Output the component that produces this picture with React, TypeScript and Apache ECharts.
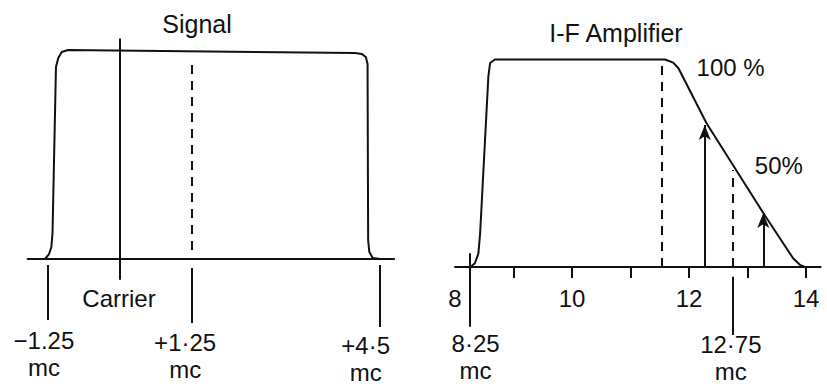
import React, { useEffect, useRef } from "react";
import * as echarts from "echarts";

// ---------- Left panel: "Signal" (frequency in mc relative to the carrier, level in %) ----------
const signalTitle = "Signal";
const signalFreq = [-1.3, -1.23, -1.19, -1.17, -1.11, -1.07, -1.01, -0.9, 4.07, 4.19, 4.26, 4.29, 4.3, 4.32, 4.38, 4.51];
const signalLevel = [0, 2.4, 5.8, 12.5, 92.3, 96.6, 99.5, 100.5, 99, 98.6, 97.1, 93.8, 9.1, 3.4, 0.5, 0];
const carrierFreq = 0;
const carrierSpan = [-10, 106];
const carrierLabel = "Carrier";
const soundFreq = 1.25;
const soundDashSpan = [4.3, 94.2];
const signalMarkFreqs = [-1.25, 1.25, 4.5];
const signalMarkSpans = [[-2.9, -29.3], [-4.3, -30.8], [-2.9, -32.7]];
const signalMarkLabels = ["−1.25", "+1·25", "+4·5"];
const unitLabel = "mc";

// ---------- Right panel: "I-F Amplifier" ----------
const ifTitle = "I-F Amplifier";
const ifFreq = [8.26, 8.34, 8.4, 8.43, 8.57, 8.6, 8.68, 11.59, 11.73, 11.82, 12.3, 13.27, 13.78, 13.9, 13.98];
const ifLevel = [0, 1.8, 6.6, 16.4, 91.7, 98.3, 100, 100, 98.5, 95.8, 69.3, 26, 4.2, 1, 0];
const ifTickValues = [9, 10, 11, 12, 13, 14];
const ifTickLabels = [8, 10, 12, 14];
const ifDashFreqs = [11.54, 12.75];
const ifDashTops = [97.3, 46.7];
const arrowFreqs = [12.27, 13.27];
const arrowLevels = [68.4, 26];
const ifMarkFreqs = [8.25, 12.75];
const ifMarkSpans = [[6.6, -28.8], [-4.7, -32.8]];
const ifMarkLabels = ["8·25", "12·75"];
const levelMarks = [
  { text: "100 %", freq: 11.6, level: 100 },
  { text: "50%", freq: 12.75, level: 50 },
];

// ---------- layout / style (not data) ----------
const INK = "#111111";
const FONT = "Liberation Sans";
const FS = 24;
const LH = 27;
const LW = 2;
const LEFT_GRID = { left: 27.7, top: 30.2, width: 366.4, height: 353.6 };
const RIGHT_GRID = { left: 455, top: 38.75, width: 365.6, height: 346.5 };
const RIGHT_ZERO_Y = 267;
const signalLabelOffsets = [[-4, 94.5], [-7, 96.5], [-14, 99.5]];
const carrierLabelOffset = [-1, 39];
const ifLabelOffsets = [[6, 90.5], [-2, 91.5]];
const levelLabelOffsets = [[65, 8.5], [46, 2]];

const pairs = (xs: number[], ys: number[]) => xs.map((x, i) => [x, ys[i]]);

const seg = (x: number, y1: number, y2: number, dashed = false, arrow = false) => [
  {
    coord: [x, y1],
    symbol: "none",
    lineStyle: { color: INK, width: LW, type: dashed ? [9, 7] : "solid" },
  },
  { coord: [x, y2], symbol: arrow ? "arrow" : "none" },
];

const textLabel = (text: string, offset: number[]) => ({
  show: true,
  position: "inside",
  formatter: text,
  offset,
  color: INK,
  opacity: 1,
  fontFamily: FONT,
  fontSize: FS,
  lineHeight: LH,
  align: "center",
  verticalAlign: "middle",
});

const markLineBase = {
  silent: true,
  symbol: ["none", "none"],
  symbolSize: [9, 15],
  label: { show: false },
  emphasis: { disabled: true },
  lineStyle: { color: INK, width: LW, type: "solid" },
};

export default function App() {
  const ref = useRef<HTMLDivElement>(null);

  useEffect(() => {
    document.body.style.margin = "0";
    if (!ref.current) return;
    const chart = echarts.init(ref.current, undefined, { renderer: "svg" });

    const option: any = {
      animation: false,
      backgroundColor: "#ffffff",
      graphic: [
        {
          type: "text",
          x: 197,
          y: 24,
          style: { text: signalTitle, font: `25px "${FONT}"`, fill: INK, align: "center", verticalAlign: "middle" },
        },
        {
          type: "text",
          x: 616,
          y: 33,
          style: { text: ifTitle, font: `25px "${FONT}"`, fill: INK, align: "center", verticalAlign: "middle" },
        },
      ],
      grid: [
        { ...LEFT_GRID, outerBoundsMode: "none", containLabel: false },
        { ...RIGHT_GRID, outerBoundsMode: "none", containLabel: false },
      ],
      xAxis: [
        {
          type: "value",
          gridIndex: 0,
          min: -1.6,
          max: 4.75,
          axisLine: { show: true, onZero: true, lineStyle: { color: INK, width: LW } },
          axisTick: { show: false },
          axisLabel: { show: false },
          splitLine: { show: false },
        },
        {
          type: "value",
          gridIndex: 1,
          min: 8,
          max: 14.25,
          position: "bottom",
          offset: -(RIGHT_GRID.top + RIGHT_GRID.height - RIGHT_ZERO_Y),
          axisLine: { show: true, onZero: false, lineStyle: { color: INK, width: LW } },
          axisTick: {
            show: true,
            customValues: ifTickValues,
            length: 11,
            lineStyle: { color: INK, width: LW },
          },
          axisLabel: {
            show: true,
            customValues: ifTickLabels,
            margin: 19,
            color: INK,
            fontFamily: FONT,
            fontSize: FS,
            showMinLabel: true,
            showMaxLabel: true,
          },
          splitLine: { show: false },
        },
      ],
      yAxis: [
        { type: "value", gridIndex: 0, min: -60, max: 110, show: false, splitLine: { show: false } },
        { type: "value", gridIndex: 1, min: -57, max: 110, show: false, splitLine: { show: false } },
      ],
      series: [
        {
          type: "line",
          xAxisIndex: 0,
          yAxisIndex: 0,
          data: pairs(signalFreq, signalLevel),
          showSymbol: false,
          symbol: "none",
          lineStyle: { color: INK, width: LW },
          silent: true,
          markLine: {
            ...markLineBase,
            data: [
              seg(carrierFreq, carrierSpan[0], carrierSpan[1]),
              seg(soundFreq, soundDashSpan[0], soundDashSpan[1], true),
              ...signalMarkFreqs.map((f, i) => seg(f, signalMarkSpans[i][0], signalMarkSpans[i][1])),
            ],
          },
        },
        {
          type: "scatter",
          xAxisIndex: 0,
          yAxisIndex: 0,
          symbolSize: 0,
          silent: true,
          itemStyle: { opacity: 1 },
          data: [
            { value: [carrierFreq, 0], label: textLabel(carrierLabel, carrierLabelOffset) },
            ...signalMarkFreqs.map((f, i) => ({
              value: [f, 0],
              label: textLabel(`${signalMarkLabels[i]}\n${unitLabel}`, signalLabelOffsets[i]),
            })),
          ],
        },
        {
          type: "line",
          xAxisIndex: 1,
          yAxisIndex: 1,
          data: pairs(ifFreq, ifLevel),
          showSymbol: false,
          symbol: "none",
          lineStyle: { color: INK, width: LW },
          silent: true,
          markLine: {
            ...markLineBase,
            data: [
              ...ifDashFreqs.map((f, i) => seg(f, 0, ifDashTops[i], true)),
              ...arrowFreqs.map((f, i) => seg(f, 0, arrowLevels[i], false, true)),
              ...ifMarkFreqs.map((f, i) => seg(f, ifMarkSpans[i][0], ifMarkSpans[i][1])),
            ],
          },
        },
        {
          type: "scatter",
          xAxisIndex: 1,
          yAxisIndex: 1,
          symbolSize: 0,
          silent: true,
          itemStyle: { opacity: 1 },
          data: [
            ...ifMarkFreqs.map((f, i) => ({
              value: [f, 0],
              label: textLabel(`${ifMarkLabels[i]}\n${unitLabel}`, ifLabelOffsets[i]),
            })),
            ...levelMarks.map((m, i) => ({
              value: [m.freq, m.level],
              label: textLabel(m.text, levelLabelOffsets[i]),
            })),
          ],
        },
      ],
    };

    chart.setOption(option);
    return () => chart.dispose();
  }, []);

  return (
    <div
      ref={ref}
      style={{ position: "absolute", left: 0, top: 0, width: 827, height: 386, background: "#fff" }}
    />
  );
}
